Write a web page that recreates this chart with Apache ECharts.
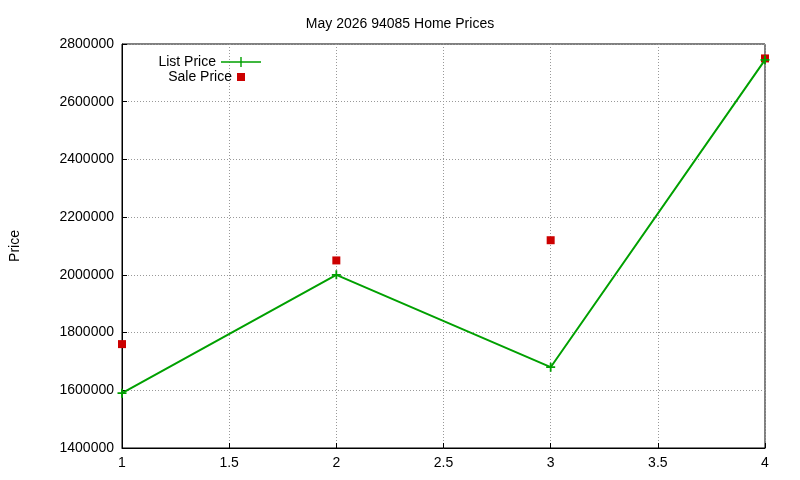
<!DOCTYPE html>
<html><head><meta charset="utf-8">
<script src="https://cdn.jsdelivr.net/npm/echarts@6/dist/echarts.min.js"></script>
<style>html,body{margin:0;padding:0;background:#fff}#c{width:800px;height:480px}</style>
</head><body><div id="c"></div>
<script>
const xValues = [1, 2, 3, 4];
const listPrice = [1590000, 2000000, 1680000, 2745000];
const salePrice = [1760000, 2050000, 2120000, 2750000];
const plus = 'path://M4,0H6V4H10V6H6V10H4V6H0V4H4Z';
const linePlus = 'path://M0,4.3H40V5.7H0Z M19.3,0H20.7V10H19.3Z';
const chart = echarts.init(document.getElementById('c'));
const ax = {color:'#000', fontFamily:'Liberation Sans, Arial', fontSize:14};
const lt = {fontSize:14, color:'#000', fontFamily:'Liberation Sans, Arial'};
chart.setOption({
  animation:false,
  title:{text:'May 2026 94085 Home Prices', left:'center', top:12, textStyle:{fontWeight:'normal', fontSize:14, color:'#000', fontFamily:'Liberation Sans, Arial'}},
  grid:{left:119, right:35, top:44, bottom:32, show:true, borderColor:'#000', borderWidth:1},
  legend:[
    {orient:'vertical', right:534, top:50, align:'right', itemWidth:40, itemHeight:10, textStyle:lt,
      data:[{name:'List Price', icon:linePlus}]},
    {orient:'vertical', right:550, top:65, align:'right', itemWidth:8, itemHeight:8, itemGap:0, textStyle:lt,
      data:[{name:'Sale Price', icon:'rect'}]}
  ],
  xAxis:{type:'value', min:1, max:4, interval:0.5,
    axisLine:{lineStyle:{color:'#000'}}, axisTick:{inside:true, lineStyle:{color:'#000'}},
    axisLabel:Object.assign({margin:8}, ax),
    splitLine:{lineStyle:{color:'#999', type:[1,2]}}},
  yAxis:{type:'value', min:1400000, max:2800000, interval:200000, name:'Price', nameLocation:'middle', nameGap:100, nameRotate:90,
    nameTextStyle:ax,
    axisLine:{show:true, lineStyle:{color:'#000'}}, axisTick:{inside:true, lineStyle:{color:'#000'}},
    axisLabel:Object.assign({margin:8, formatter:v=>String(v)}, ax),
    splitLine:{lineStyle:{color:'#999', type:[1,2]}}},
  series:[
    {name:'List Price', type:'line', data:xValues.map((x,i)=>[x, listPrice[i]]), symbol:plus, symbolSize:9,
      lineStyle:{color:'#00a000', width:2}, itemStyle:{color:'#00a000'}},
    {name:'Sale Price', type:'scatter', data:xValues.map((x,i)=>[x, salePrice[i]]), symbol:'rect', symbolSize:8,
      itemStyle:{color:'#cc0000', opacity:1}}
  ]
});
</script></body></html>
